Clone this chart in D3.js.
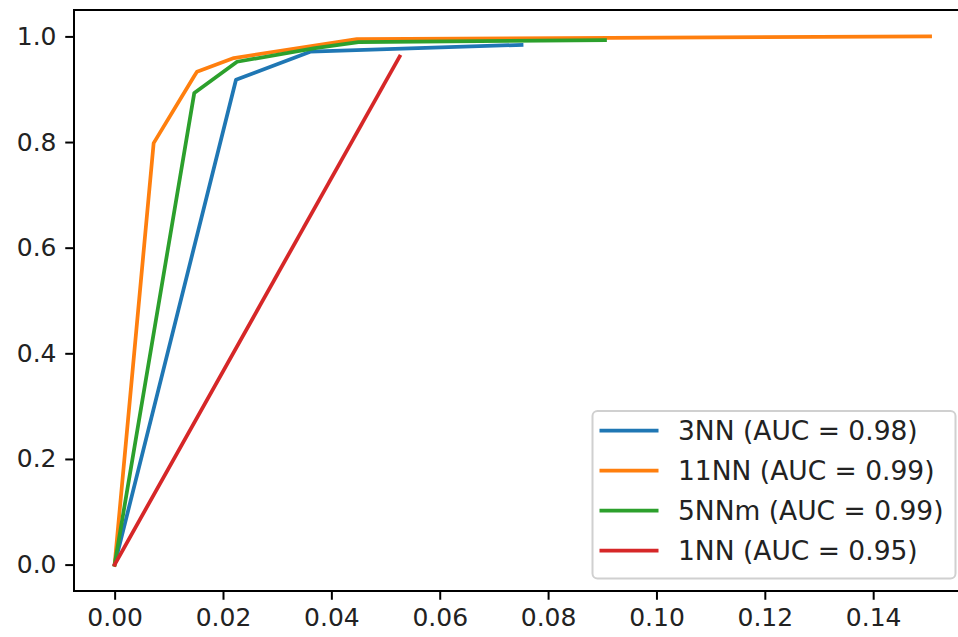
<!DOCTYPE html>
<html>
<head>
<meta charset="utf-8">
<script src="https://cdn.jsdelivr.net/npm/d3@7"></script>
<style>
  body { margin: 0; background: #fff; }
  text { font-family: "DejaVu Sans", sans-serif; }
</style>
</head>
<body>
<script>
var width = 958;
var height = 637;

// ROC points
var fpr3 = [0, 0.0224, 0.0361, 0.0751];
var tpr3 = [0, 0.918, 0.971, 0.984];
var fpr11 = [0, 0.0072, 0.0147, 0.0152, 0.0220, 0.0447, 0.1505];
var tpr11 = [0, 0.798, 0.925, 0.933, 0.959, 0.995, 1.0];
var fpr5m = [0, 0.0147, 0.0226, 0.037, 0.045, 0.0905];
var tpr5m = [0, 0.893, 0.952, 0.978, 0.989, 0.993];
var fpr1 = [0, 0.0526];
var tpr1 = [0, 0.962];

var labels = ["3NN (AUC = 0.98)", "11NN (AUC = 0.99)", "5NNm (AUC = 0.99)", "1NN (AUC = 0.95)"];
var colors = ["#1f77b4", "#ff7f0e", "#2ca02c", "#d62728"];
var xTicks = [0, 0.02, 0.04, 0.06, 0.08, 0.10, 0.12, 0.14];
var yTicks = [0, 0.2, 0.4, 0.6, 0.8, 1.0];

var series = [[fpr3, tpr3], [fpr11, tpr11], [fpr5m, tpr5m], [fpr1, tpr1]];

// axes box (right edge runs past the window, as in the picture)
var axL = 74, axR = 968, axT = 10, axB = 591;
var fs = 25;

var svg = d3.select("body").append("svg")
  .attr("width", width)
  .attr("height", height);

var x = d3.scaleLinear().domain([-0.0075, 0.1575]).range([axL, axR]);
var y = d3.scaleLinear().domain([-0.05, 1.05]).range([axB, axT]);

var line = d3.line()
  .x(function(d) { return x(d[0]); })
  .y(function(d) { return y(d[1]); });

series.forEach(function(s, i) {
  var pts = s[0].map(function(v, j) { return [v, s[1][j]]; });
  svg.append("path")
    .datum(pts)
    .attr("d", line)
    .attr("fill", "none")
    .attr("stroke", colors[i])
    .attr("stroke-width", 3.75)
    .attr("stroke-linejoin", "round")
    .attr("stroke-linecap", "square");
});

// frame
svg.append("rect")
  .attr("x", axL).attr("y", axT)
  .attr("width", axR - axL).attr("height", axB - axT)
  .attr("fill", "none")
  .attr("stroke", "#000")
  .attr("stroke-width", 2);

var gx = svg.append("g")
  .attr("transform", "translate(0," + axB + ")")
  .call(d3.axisBottom(x).tickValues(xTicks).tickFormat(d3.format(".2f"))
    .tickSize(8.75).tickPadding(8.75));
var gy = svg.append("g")
  .attr("transform", "translate(" + axL + ",0)")
  .call(d3.axisLeft(y).tickValues(yTicks).tickFormat(d3.format(".1f"))
    .tickSize(8.75).tickPadding(8.75));

[gx, gy].forEach(function(g) {
  g.select(".domain").remove();
  g.selectAll(".tick line").attr("stroke", "#000").attr("stroke-width", 2);
  g.selectAll(".tick text")
    .attr("fill", "#222")
    .style("font-size", fs + "px")
    .style("font-family", "DejaVu Sans");
});

// legend, lower right
var rowH = 40;
var lg = svg.append("g");
lg.append("rect")
  .attr("x", 592.5).attr("y", 411)
  .attr("width", 955.5 - 592.5).attr("height", 578.5 - 411)
  .attr("rx", 5).attr("ry", 5)
  .attr("fill", "#fff").attr("fill-opacity", 0.8)
  .attr("stroke", "#d0d0d0").attr("stroke-width", 2);

labels.forEach(function(lab, i) {
  var ry = 430.7 + i * rowH;
  lg.append("line")
    .attr("x1", 599.5).attr("x2", 658.5)
    .attr("y1", ry).attr("y2", ry)
    .attr("stroke", colors[i])
    .attr("stroke-width", 3.75);
  lg.append("text")
    .attr("x", 678)
    .attr("y", ry)
    .attr("dy", "0.35em")
    .attr("fill", "#222")
    .style("font-size", "26.5px")
    .text(lab);
});
</script>
</body>
</html>
